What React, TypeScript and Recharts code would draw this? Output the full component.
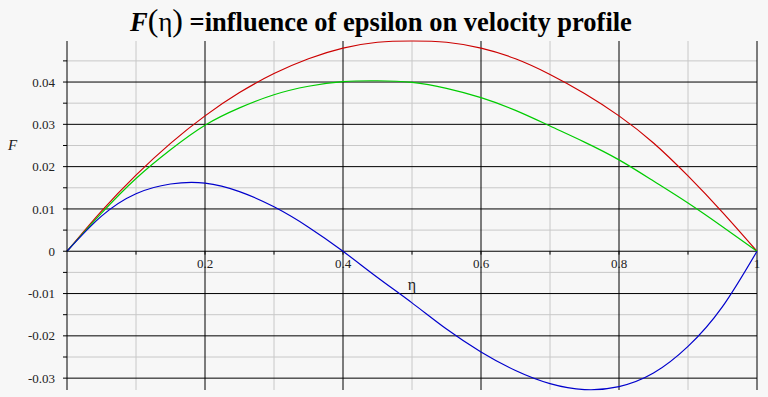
import {
  LineChart,
  Line,
  XAxis,
  YAxis,
  ReferenceLine,
  ReferenceDot
} from 'recharts';

const etaValues = [0, 0.05, 0.1, 0.15, 0.2, 0.25, 0.3, 0.35, 0.4, 0.45, 0.5, 0.55, 0.6, 0.65, 0.7, 0.75, 0.8, 0.85, 0.9, 0.95, 1];
const redValues = [0, 0.0095, 0.018, 0.0255, 0.032, 0.0375, 0.042, 0.0455, 0.048, 0.0494, 0.0497, 0.0494, 0.048, 0.0455, 0.0418, 0.0373, 0.032, 0.0256, 0.0178, 0.0092, 0];
const greenValues = [0, 0.009, 0.0172, 0.024, 0.0298, 0.0339, 0.037, 0.039, 0.0401, 0.0403, 0.0399, 0.0385, 0.0363, 0.0333, 0.0296, 0.0258, 0.0216, 0.0166, 0.0114, 0.0058, 0];
const blueValues = [0, 0.0083, 0.0136, 0.0159, 0.0161, 0.0141, 0.0105, 0.0057, 0, -0.0062, -0.0122, -0.0184, -0.0238, -0.0282, -0.0313, -0.0327, -0.032, -0.0288, -0.0225, -0.0131, 0];

const majorY = [-0.03, -0.02, -0.01, 0, 0.01, 0.02, 0.03, 0.04];
const minorY = [-0.025, -0.015, -0.005, 0.005, 0.015, 0.025, 0.035, 0.045];
const majorX = [0.2, 0.4, 0.6, 0.8, 1];
const minorX = [0.1, 0.3, 0.5, 0.7, 0.9];
const xTickMarks = [0.1, 0.2, 0.3, 0.4, 0.5, 0.6, 0.7, 0.8, 0.9];
const xTickLabels = ['0.2', '0.4', '0.6', '0.8', '1'];

const data = etaValues.map((x, i) => ({
  x,
  red: redValues[i],
  green: greenValues[i],
  blue: blueValues[i]
}));

const yTicks = [...majorY, ...minorY].sort((a, b) => a - b);
const serif = "'Times New Roman', 'Liberation Serif', 'DejaVu Serif', serif";

const formatY = (v: number) => {
  const isMajor = Math.abs(v * 100 - Math.round(v * 100)) < 1e-6;
  if (!isMajor) return '';
  if (Math.abs(v) < 1e-9) return '0';
  return v.toFixed(2);
};

export default function App() {
  return (
    <div style={{ position: 'absolute', left: 0, top: 0, width: 768, height: 397, background: '#f7f7f7', fontFamily: serif }}>
      {/* title */}
      <div
        style={{
          position: 'absolute',
          left: 0,
          top: 2,
          width: 762,
          textAlign: 'center',
          fontSize: 26.5,
          fontWeight: 'bold',
          color: '#000',
          whiteSpace: 'nowrap'
        }}
      >
        <span style={{ fontStyle: 'italic' }}>F</span>
        <span style={{ fontWeight: 'normal', fontSize: 32 }}>(</span>
        <span style={{ fontWeight: 'normal' }}>η</span>
        <span style={{ fontWeight: 'normal', fontSize: 32 }}>)</span>
        <span> =influence of epsilon on velocity profile</span>
      </div>
      <div style={{ position: 'absolute', left: 8, top: 137, fontSize: 15, fontStyle: 'italic', color: '#222' }}>F</div>

      <LineChart width={768} height={397} data={data} margin={{ top: 41, right: 11, bottom: 7, left: 0 }}>
        <XAxis type="number" dataKey="x" domain={[0, 1]} hide />
        <YAxis
          type="number"
          domain={[-0.0328, 0.0497]}
          ticks={yTicks}
          tickFormatter={formatY}
          width={67}
          tickSize={4}
          tickMargin={8}
          interval={0}
          axisLine={{ stroke: '#000' }}
          tickLine={{ stroke: '#000' }}
          tick={{ fill: '#222', fontSize: 13, fontFamily: serif }}
        />

        {/* minor grid */}
        {minorY.map(v => (
          <ReferenceLine key={'my' + v} y={v} stroke="#c8c8c8" strokeWidth={1} />
        ))}
        {minorX.map(v => (
          <ReferenceLine key={'mx' + v} x={v} stroke="#c8c8c8" strokeWidth={1} />
        ))}
        {/* major grid */}
        {majorY.map(v => (
          <ReferenceLine key={'My' + v} y={v} stroke="#000" strokeWidth={1} />
        ))}
        {majorX.map(v => (
          <ReferenceLine key={'Mx' + v} x={v} stroke="#000" strokeWidth={1} />
        ))}
        {/* x tick marks on the zero line */}
        {xTickMarks.map(v => (
          <ReferenceLine
            key={'t' + v}
            segment={[{ x: v, y: 0 }, { x: v, y: -0.0008 }]}
            stroke="#000"
            strokeWidth={1}
          />
        ))}
        {xTickLabels.map((label, i) => (
          <ReferenceDot
            key={'l' + label}
            x={majorX[i]}
            y={0}
            r={0}
            fill="none"
            stroke="none"
            label={{ value: label, position: 'bottom', offset: 8, fill: '#222', fontSize: 13, fontFamily: serif }}
          />
        ))}
        <ReferenceDot
          x={0.5}
          y={0}
          r={0}
          fill="none"
          stroke="none"
          label={{ value: 'η', position: 'bottom', offset: 27, fill: '#222', fontSize: 16, fontFamily: serif }}
        />

        <Line type="natural" dataKey="red" stroke="#cc0000" strokeWidth={1.2} dot={false} isAnimationActive={false} />
        <Line type="natural" dataKey="green" stroke="#00cc00" strokeWidth={1.2} dot={false} isAnimationActive={false} />
        <Line type="natural" dataKey="blue" stroke="#0000cc" strokeWidth={1.2} dot={false} isAnimationActive={false} />
      </LineChart>
    </div>
  );
}
